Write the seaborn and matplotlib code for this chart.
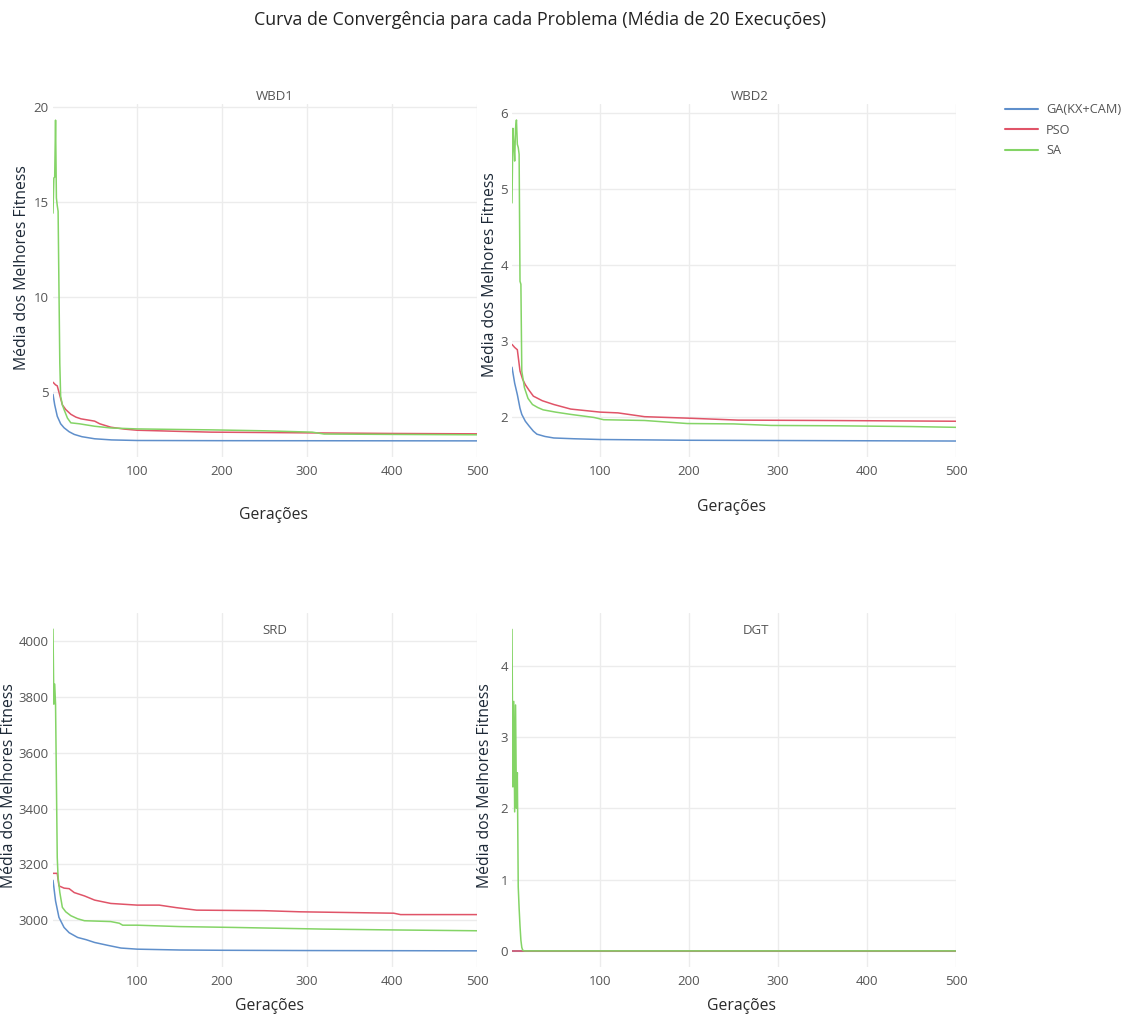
import pandas as pd
import matplotlib
matplotlib.use("Agg")
import matplotlib.pyplot as plt
from matplotlib.lines import Line2D
import seaborn as sns

# Dados (geração, média do melhor fitness)
algoritmos = ["GA(KX+CAM)", "PSO", "SA"]
cores = ["#5f8fcb", "#e05468", "#84d466"]

# WBD1
wbd1_ga_gen = [1, 3, 6, 10, 14, 20, 26, 35, 50, 70, 100, 200, 500]
wbd1_ga_val = [4.85, 4.3, 3.7, 3.3, 3.09, 2.88, 2.74, 2.62, 2.51, 2.45, 2.42, 2.41, 2.40]
wbd1_pso_gen = [1, 4, 6, 9, 12, 16, 22, 28, 34, 42, 50, 56, 69, 85, 100, 150, 187, 250, 306, 400, 500]
wbd1_pso_val = [5.49, 5.35, 5.3, 4.8, 4.3, 4.05, 3.8, 3.65, 3.56, 3.5, 3.44, 3.3, 3.12, 3.02, 2.96,
                2.9, 2.86, 2.84, 2.82, 2.79, 2.77]
wbd1_sa_gen = [1, 2, 3, 4, 5, 6, 7, 8, 9, 10, 12, 14, 18, 22, 32, 50, 69, 100, 150, 187, 250, 306,
               320, 400, 500]
wbd1_sa_val = [14.4, 16.25, 16.3, 19.3, 15.2, 14.8, 14.5, 10.5, 6.5, 4.75, 4.3, 4.05, 3.6, 3.35, 3.3,
               3.17, 3.08, 3.03, 3.0, 2.98, 2.93, 2.86, 2.76, 2.74, 2.72]

# WBD2
wbd2_ga_gen = [1, 4, 7, 10, 12, 16, 20, 25, 29, 38, 48, 70, 100, 200, 500]
wbd2_ga_val = [2.66, 2.45, 2.30, 2.12, 2.04, 1.95, 1.89, 1.82, 1.78, 1.75, 1.73, 1.72, 1.71, 1.70, 1.69]
wbd2_pso_gen = [1, 4, 7, 10, 13, 16, 20, 25, 35, 48, 67, 100, 120, 150, 200, 255, 350, 500]
wbd2_pso_val = [2.96, 2.92, 2.89, 2.61, 2.50, 2.43, 2.36, 2.28, 2.22, 2.17, 2.11, 2.07, 2.06, 2.01,
                1.99, 1.965, 1.96, 1.95]
wbd2_sa_gen = [1, 2, 3, 4, 5, 6, 7, 8, 9, 10, 11, 12, 15, 19, 24, 30, 36, 50, 67, 93, 104, 150, 198,
               250, 292, 367, 450, 500]
wbd2_sa_val = [4.82, 5.8, 5.6, 5.37, 5.8, 5.91, 5.59, 5.55, 5.46, 3.79, 3.75, 2.61, 2.39, 2.25, 2.17,
               2.13, 2.10, 2.07, 2.04, 2.0, 1.97, 1.96, 1.92, 1.915, 1.895, 1.89, 1.88, 1.87]

# SRD
srd_ga_gen = [1, 4, 8, 14, 20, 30, 40, 50, 65, 81, 100, 150, 200, 300, 500]
srd_ga_val = [3143, 3069, 3010, 2974, 2955, 2938, 2930, 2920, 2910, 2900, 2896, 2893, 2892, 2891, 2890]
srd_pso_gen = [1, 6, 8, 14, 20, 26, 38, 50, 69, 100, 126, 146, 170, 250, 292, 402, 410, 500]
srd_pso_val = [3168, 3168, 3123, 3115, 3113, 3099, 3087, 3072, 3060, 3054, 3054, 3045, 3036, 3034,
               3030, 3025, 3020, 3020]
srd_sa_gen = [1, 2, 3, 4, 5, 6, 7, 9, 12, 16, 22, 30, 38, 69, 79, 83, 100, 150, 213, 319, 400, 500]
srd_sa_val = [4044, 3775, 3847, 3775, 3500, 3225, 3153, 3100, 3046, 3030, 3016, 3005, 2998, 2995,
              2989, 2982, 2982, 2977, 2974, 2968, 2965, 2962]

# DGT
dgt_ga_gen = [1, 500]
dgt_ga_val = [0, 0]
dgt_pso_gen = [1, 500]
dgt_pso_val = [0, 0]
dgt_sa_gen = [1, 2, 3, 4, 5, 6, 7, 8, 9, 10, 11, 12, 13, 15, 500]
dgt_sa_val = [4.51, 2.3, 3.5, 1.95, 3.45, 2.0, 2.5, 0.9, 0.6, 0.35, 0.15, 0.05, 0.01, 0, 0]

problemas = {
    "WBD1": [(wbd1_ga_gen, wbd1_ga_val), (wbd1_pso_gen, wbd1_pso_val), (wbd1_sa_gen, wbd1_sa_val)],
    "WBD2": [(wbd2_ga_gen, wbd2_ga_val), (wbd2_pso_gen, wbd2_pso_val), (wbd2_sa_gen, wbd2_sa_val)],
    "SRD": [(srd_ga_gen, srd_ga_val), (srd_pso_gen, srd_pso_val), (srd_sa_gen, srd_sa_val)],
    "DGT": [(dgt_ga_gen, dgt_ga_val), (dgt_pso_gen, dgt_pso_val), (dgt_sa_gen, dgt_sa_val)],
}

y_ticks = {
    "WBD1": [5, 10, 15, 20],
    "WBD2": [2, 3, 4, 5, 6],
    "SRD": [3000, 3200, 3400, 3600, 3800, 4000],
    "DGT": [0, 1, 2, 3, 4],
}
y_lims = {"WBD1": (1.55, 20.15), "WBD2": (1.48, 6.12), "SRD": (2832, 4102), "DGT": (-0.226, 4.74)}

sns.set_theme(style="white")
plt.rcParams['font.family'] = ['Open Sans', 'DejaVu Sans']

W, H = 1131, 1016
fig = plt.figure(figsize=(W / 100, H / 100), dpi=100)

# posições em pixeis: (esquerda, topo, direita, baixo)
caixas = {
    "WBD1": (53, 104, 477, 457),
    "WBD2": (512, 104, 956, 457),
    "SRD": (53, 613, 477, 967),
    "DGT": (512, 613, 956, 967),
}
titulos_pos = {"WBD1": (275, 97), "WBD2": (750, 97), "SRD": (275, 631), "DGT": (756, 631)}
xlabel_pos = {"WBD1": (274, 515), "WBD2": (731, 507), "SRD": (270, 1006), "DGT": (741, 1006)}
ylabel_pos = {"WBD1": (22, 268), "WBD2": (490, 275), "SRD": (9, 786), "DGT": (485, 786)}

for nome, series in problemas.items():
    l, t, r, b = caixas[nome]
    ax = fig.add_axes([l / W, 1 - b / H, (r - l) / W, (b - t) / H])
    linhas = []
    for alg, (g, v) in zip(algoritmos, series):
        linhas.append(pd.DataFrame({"Geração": g, "Fitness": v, "Algoritmo": alg}))
    df = pd.concat(linhas, ignore_index=True)
    sns.lineplot(data=df, x="Geração", y="Fitness", hue="Algoritmo", palette=cores,
                 estimator=None, sort=False, linewidth=1.1, legend=False, ax=ax)
    ax.set_xlim(1, 500)
    ax.set_ylim(*y_lims[nome])
    ax.set_xticks([100, 200, 300, 400, 500])
    ax.set_yticks(y_ticks[nome])
    ax.grid(True, color="#ececec", linewidth=1)
    ax.set_axisbelow(True)
    for s in ax.spines.values():
        s.set_visible(False)
    ax.tick_params(axis="both", labelsize=9.5, colors="#555555", length=0, pad=3)
    ax.tick_params(axis="x", pad=6)
    ax.set_xlabel("")
    ax.set_ylabel("")
    tx, ty = titulos_pos[nome]
    fig.text(tx / W, 1 - ty / H, nome, ha="center", va="center", fontsize=9.5, color="#555555")
    xx, xy = xlabel_pos[nome]
    fig.text(xx / W, 1 - xy / H, "Gerações", ha="center", va="center", fontsize=11.3, color="#2a2a2a")
    yx, yy = ylabel_pos[nome]
    fig.text(yx / W, 1 - yy / H, "Média dos Melhores Fitness", ha="center", va="center",
             rotation=90, fontsize=11.3, color="#1c2836")

fig.text(540 / W, 1 - 20 / H, "Curva de Convergência para cada Problema (Média de 20 Execuções)",
         ha="center", va="center", fontsize=12.9, color="#222222")

handles = [Line2D([0], [0], color=c, linewidth=1.5) for c in cores]
fig.legend(handles, algoritmos, loc="upper left", bbox_to_anchor=(1000 / W, 1 - 98 / H),
           frameon=False, fontsize=9.2, handlelength=2.6, handletextpad=0.6, labelspacing=0.6,
           labelcolor="#555555", borderaxespad=0)

fig.savefig("out.png", dpi=100)
